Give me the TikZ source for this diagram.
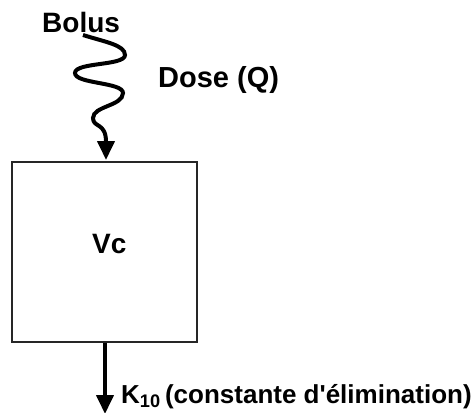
\documentclass[tikz,border=0pt]{standalone}
\usepackage{fontspec}
\setmainfont{Liberation Sans}
\newfontfamily\plainsans{Liberation Sans}[Ligatures=ResetAll]
\usetikzlibrary{arrows.meta}
\tikzset{
  lbl/.style={inner sep=0pt, anchor=base west, font=\bfseries\fontsize{28}{32}\selectfont},
  comp/.style={draw=black!85, line width=1.6pt, minimum width=185pt, minimum height=180pt, inner sep=0pt},
  flow/.style={line width=4pt, -{Triangle[length=19pt,width=17pt]}},
}
\begin{document}
\begin{tikzpicture}[x=1pt,y=-1pt]
\useasboundingbox (0,0) rectangle (475,413);
\node[lbl] (bolus) at (42,32) {Bolus};
\node[lbl, font=\bfseries\fontsize{29}{32}\selectfont] (dose) at (158,87) {Dose (Q)};
\node[comp] (vc) at (104.5,252) {};
\node[lbl] (vclabel) at (92,253) {Vc};
\coordinate (start) at (83,35);
\coordinate (tip) at (105,414);
\node[lbl, font=\plainsans\bfseries\fontsize{26}{30}\selectfont] (k) at (121,403) {K\textsubscript{10}\,(constante d'élimination)};
\draw[flow] (start) .. controls (105,42) and (125,45) .. (125,55)
  .. controls (125,66) and (75,62) .. (75,73)
  .. controls (75,84) and (123,82) .. (123,93)
  .. controls (123,106) and (93,106) .. (93,118)
  .. controls (93,128) and (106,122) .. (106,160);
\draw[flow] (vc.south -| tip) -- (tip);
\end{tikzpicture}
\end{document}
